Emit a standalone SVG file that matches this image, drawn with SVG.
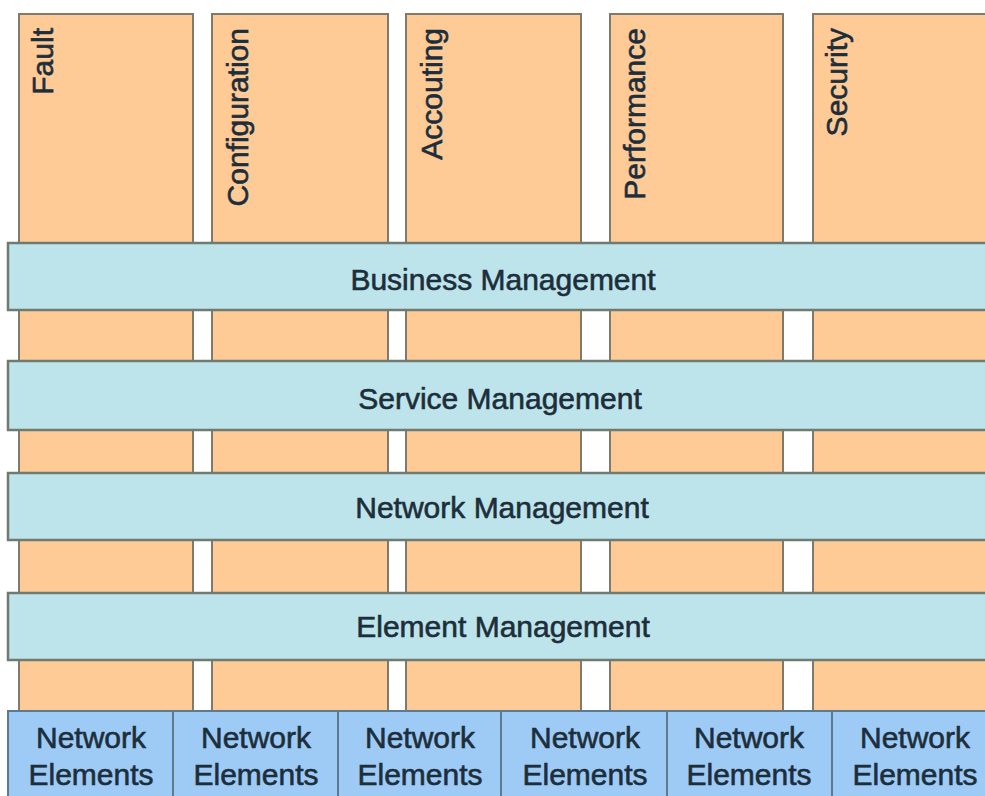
<svg xmlns="http://www.w3.org/2000/svg" width="985" height="796" viewBox="0 0 985 796">
<style>
.col{fill:#fecb97;stroke:#7f7a6c;stroke-width:2}
.band{fill:#bde4ea;stroke:#6f7a70;stroke-width:2.5}
.ne{fill:#9dcbf5;stroke:#5f7a8e;stroke-width:2}
text{font-family:"Liberation Sans",Arial,sans-serif;font-size:30px;fill:#1d2e3b;stroke:#1d2e3b;stroke-width:0.6}
.c{text-anchor:middle}
.v{text-anchor:end}
</style>
<rect width="985" height="796" fill="#ffffff"/>
<g id="col-fault"><rect class="col" x="19" y="14" width="174" height="697"/><text class="v" transform="translate(53,28) rotate(-90)">Fault</text></g>
<g id="col-configuration"><rect class="col" x="212" y="14" width="176" height="697"/><text class="v" transform="translate(248,28) rotate(-90)">Configuration</text></g>
<g id="col-accouting"><rect class="col" x="406" y="14" width="175" height="697"/><text class="v" transform="translate(442,28) rotate(-90)">Accouting</text></g>
<g id="col-performance"><rect class="col" x="610" y="14" width="173" height="697"/><text class="v" transform="translate(645,28) rotate(-90)">Performance</text></g>
<g id="col-security"><rect class="col" x="813" y="14" width="185" height="697"/><text class="v" transform="translate(847,28) rotate(-90)">Security</text></g>
<g id="band-business"><rect class="band" x="8" y="243" width="990" height="67"/><text class="c" x="503" y="290">Business Management</text></g>
<g id="band-service"><rect class="band" x="8" y="361" width="990" height="69"/><text class="c" x="500" y="409">Service Management</text></g>
<g id="band-network"><rect class="band" x="8" y="473" width="990" height="67"/><text class="c" x="502" y="518">Network Management</text></g>
<g id="band-element"><rect class="band" x="8" y="593" width="990" height="67"/><text class="c" x="503" y="637">Element Management</text></g>
<g id="ne-1"><rect class="ne" x="8" y="711" width="165" height="95"/><text class="c" x="91" y="748">Network</text><text class="c" x="91" y="785">Elements</text></g>
<g id="ne-2"><rect class="ne" x="173" y="711" width="165" height="95"/><text class="c" x="256" y="748">Network</text><text class="c" x="256" y="785">Elements</text></g>
<g id="ne-3"><rect class="ne" x="338" y="711" width="163" height="95"/><text class="c" x="420" y="748">Network</text><text class="c" x="420" y="785">Elements</text></g>
<g id="ne-4"><rect class="ne" x="501" y="711" width="166" height="95"/><text class="c" x="585" y="748">Network</text><text class="c" x="585" y="785">Elements</text></g>
<g id="ne-5"><rect class="ne" x="667" y="711" width="165" height="95"/><text class="c" x="749" y="748">Network</text><text class="c" x="749" y="785">Elements</text></g>
<g id="ne-6"><rect class="ne" x="832" y="711" width="170" height="95"/><text class="c" x="915" y="748">Network</text><text class="c" x="915" y="785">Elements</text></g>
<g id="connectors"></g>
</svg>
